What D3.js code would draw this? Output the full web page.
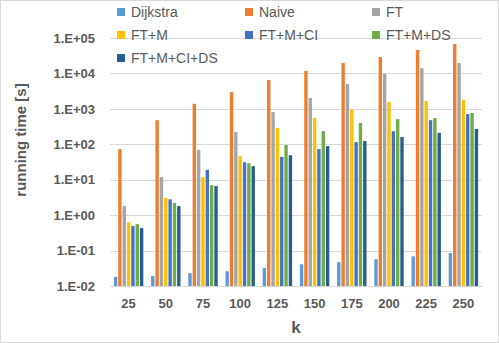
<!DOCTYPE html>
<html>
<head>
<meta charset="utf-8">
<script src="https://cdn.jsdelivr.net/npm/d3@7"></script>
<style>
  body { margin: 0; background: #fff; }
  text { font-family: "Liberation Sans", Arial, sans-serif; fill: #595959; }
</style>
</head>
<body>
<div id="chart"></div>
<script>
// data
var categories = ["25", "50", "75", "100", "125", "150", "175", "200", "225", "250"];
var seriesNames = ["Dijkstra", "Naive", "FT", "FT+M", "FT+M+CI", "FT+M+DS", "FT+M+CI+DS"];
var dijkstra = [0.018, 0.019, 0.023, 0.026, 0.032, 0.041, 0.047, 0.057, 0.069, 0.085];
var naive    = [73, 480, 1390, 2960, 6500, 11700, 19600, 29000, 46000, 68000];
var ft       = [1.8, 11.8, 70, 220, 810, 2030, 5000, 9600, 14000, 19600];
var ftm      = [0.63, 3.1, 11.8, 46, 290, 550, 930, 1550, 1660, 1780];
var ftmci    = [0.49, 2.8, 19, 31, 44, 73, 115, 235, 480, 710];
var ftmds    = [0.56, 2.2, 7.0, 29, 95, 235, 400, 510, 550, 760];
var ftmcids  = [0.43, 1.8, 6.6, 24, 49, 89, 123, 160, 210, 270];
var yTicks = [1e-2, 1e-1, 1e0, 1e1, 1e2, 1e3, 1e4, 1e5];
var colors = ["#5B9BD5", "#ED7D31", "#A5A5A5", "#FFC000", "#4472C4", "#70AD47", "#255E91"];

var allSeries = [dijkstra, naive, ft, ftm, ftmci, ftmds, ftmcids];

var W = 499, H = 343;
var margin = { top: 38, right: 17, bottom: 57, left: 110 },
    width = W - margin.left - margin.right,
    height = H - margin.top - margin.bottom;

var svg = d3.select("#chart")
    .append("svg")
    .attr("width", W)
    .attr("height", H);

// outer border
svg.append("rect")
    .attr("x", 0.5).attr("y", 0.5)
    .attr("width", W - 1).attr("height", H - 1)
    .attr("fill", "#fff")
    .attr("stroke", "#d9d9d9");

var g = svg.append("g")
    .attr("transform", "translate(" + margin.left + "," + margin.top + ")");

var x = d3.scaleBand()
    .domain(categories)
    .range([0, width])
    .paddingInner(0)
    .paddingOuter(0);

var step = 4.2;
var xs = d3.scaleBand()
    .domain(seriesNames)
    .range([(x.bandwidth() - step * 7) / 2, (x.bandwidth() + step * 7) / 2])
    .paddingInner(0.22);

var y = d3.scaleLog()
    .domain([1e-2, 1e5])
    .range([height, 0]);

// gridlines
g.selectAll(".grid")
    .data(yTicks)
    .enter().append("line")
    .attr("x1", 0).attr("x2", width)
    .attr("y1", function (d) { return Math.round(y(d)) + 0.5; })
    .attr("y2", function (d) { return Math.round(y(d)) + 0.5; })
    .attr("stroke", "#d9d9d9")
    .attr("stroke-width", 1);

// bars
var rows = [];
categories.forEach(function (c, i) {
    seriesNames.forEach(function (s, j) {
        rows.push({ cat: c, name: s, value: allSeries[j][i], color: colors[j] });
    });
});

g.selectAll(".bar")
    .data(rows)
    .enter().append("rect")
    .attr("class", "bar")
    .attr("x", function (d) { return x(d.cat) + xs(d.name); })
    .attr("width", xs.bandwidth())
    .attr("y", function (d) { return y(d.value); })
    .attr("height", function (d) { return height - y(d.value); })
    .attr("fill", function (d) { return d.color; });

// y axis labels
var yAxis = g.append("g")
    .call(d3.axisLeft(y).tickValues(yTicks).tickSize(0).tickPadding(15)
        .tickFormat(function (d) {
            var e = Math.round(Math.log10(d));
            return "1.E" + (e < 0 ? "-" : "+") + String(Math.abs(e)).padStart(2, "0");
        }));
yAxis.select(".domain").remove();
yAxis.selectAll("text")
    .style("font-size", "13px")
    .style("font-weight", "bold")
    .attr("fill", "#595959");

// x axis
var xAxis = g.append("g")
    .attr("transform", "translate(0," + height + ")")
    .call(d3.axisBottom(x).tickSize(0).tickPadding(13));
xAxis.select(".domain").attr("stroke", "#d9d9d9");
xAxis.selectAll("text")
    .style("font-size", "13px")
    .style("font-weight", "bold")
    .attr("fill", "#595959");

// axis titles
svg.append("text")
    .attr("x", margin.left + width / 2)
    .attr("y", 333)
    .style("text-anchor", "middle")
    .style("font-size", "17px")
    .style("font-weight", "bold")
    .text("k");

svg.append("text")
    .attr("transform", "translate(26," + (margin.top + height / 2 - 22) + ") rotate(-90)")
    .style("text-anchor", "middle")
    .style("font-size", "15px")
    .style("font-weight", "bold")
    .text("running time [s]");

// legend
var legendCols = [117, 245, 372];
var legendRows = [12, 35, 58];
var legend = svg.selectAll(".legend")
    .data(seriesNames)
    .enter().append("g")
    .attr("transform", function (d, i) {
        return "translate(" + legendCols[i % 3] + "," + legendRows[Math.floor(i / 3)] + ")";
    });
legend.append("rect")
    .attr("x", 0).attr("y", -4)
    .attr("width", 8).attr("height", 8)
    .attr("fill", function (d, i) { return colors[i]; });
legend.append("text")
    .attr("x", 14)
    .attr("y", 0)
    .attr("dy", "0.35em")
    .style("font-size", "14px")
    .text(function (d) { return d; });
</script>
</body>
</html>
